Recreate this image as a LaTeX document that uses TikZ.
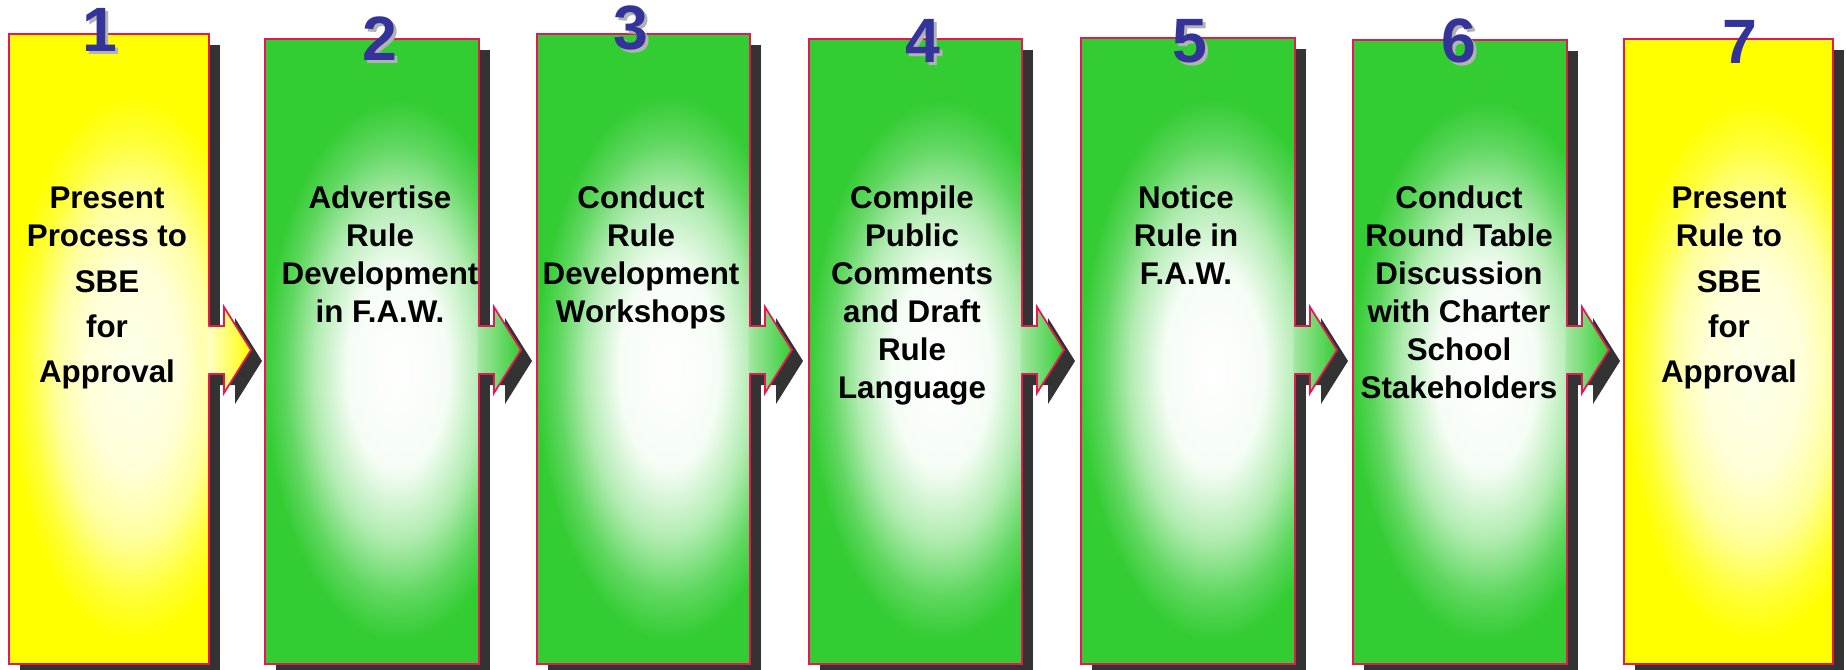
\documentclass[tikz,border=0pt]{standalone}
\usepackage{fontspec}
\setmainfont{Liberation Sans}
\usetikzlibrary{calc,fit}
\definecolor{grn}{RGB}{51,204,51}
\definecolor{yel}{RGB}{255,255,0}
\definecolor{edgec}{RGB}{228,24,84}
\definecolor{shadowc}{RGB}{51,51,51}
\definecolor{numc}{RGB}{51,51,153}
\definecolor{numsh}{RGB}{178,178,178}
% 25bp of the shading = 1.3 box widths horizontally, 0.9 box heights vertically
\pgfdeclareradialshading{grnglow}{\pgfpoint{0bp}{0bp}}{color(0bp)=(white); color(4.5bp)=(grn!5!white); color(7.5bp)=(grn!38!white); color(10bp)=(grn!78!white); color(12bp)=(grn); color(50bp)=(grn)}
\pgfdeclareradialshading{yelglow}{\pgfpoint{0bp}{0bp}}{color(0bp)=(yel!8!white); color(4.5bp)=(yel!15!white); color(7.5bp)=(yel!38!white); color(10bp)=(yel!78!white); color(12bp)=(yel); color(50bp)=(yel)}
% #1 name, #2 x0, #3 y0, #4 x1, #5 glow shading
\newcommand\stepblock[5]{%
  \node[shadowbox, fit={(#2+11,#3+11) (#4+11,675)}] (#1s) {};
  \begin{scope}
    \clip (#2,#3) rectangle (#4,664);
    \shade[shading=#5] ({#2-0.68*(#4-#2)},{#3-0.37*(664-#3)}) rectangle ({#4+0.92*(#4-#2)},{664+0.43*(664-#3)});
  \end{scope}
  \node[outline, fit={(#2,#3) (#4,664)}] (#1) {};
}
% #1 box name, #2 light colour, #3 full colour
\newcommand\steparrow[3]{%
  \begin{scope}[shift={(#1.east |- axisline)}]
    \fill[shadowc] (9.5,-13) -- (26,-13) -- (26,-32) -- (53,11) -- (26,54) -- (26,35) -- (9.5,35) -- cycle;
    \shade[left color=#2, right color=#3] (-1.5,-24) -- (15,-24) -- (15,-43) -- (42,0) -- (15,43) -- (15,24) -- (-1.5,24) -- cycle;
    \draw[edge] (-0.6,-24) -- (15,-24) -- (15,-43) -- (42,0) -- (15,43) -- (15,24) -- (-0.6,24);
  \end{scope}
}
\begin{document}
\begin{tikzpicture}[x=0.75pt,y=-0.75pt,
  edge/.style={draw=edgec,line width=1.3pt,line join=miter},
  outline/.style={edge, rectangle, inner sep=0pt, outer sep=0pt},
  shadowbox/.style={fill=shadowc, rectangle, inner sep=0pt, outer sep=0pt, draw=none},
  lbl/.style={anchor=north, align=center, inner sep=0pt, font=\bfseries\fontsize{23.5}{28.5}\selectfont},
  num/.style={anchor=base, inner sep=0pt, text=numc, font=\bfseries\fontsize{47}{50}\selectfont},
  numshade/.style={num, text=numsh}]
\useasboundingbox (0,0) rectangle (1846,670);
\coordinate (axisline) at (0,350);

\stepblock{b1}{9}{34}{209}{yelglow}
\steparrow{b1}{yel!22!white}{yel}
\stepblock{b2}{265}{39}{479}{grnglow}
\steparrow{b2}{grn!45!white}{grn}
\stepblock{b3}{537}{34}{750}{grnglow}
\steparrow{b3}{grn!45!white}{grn}
\stepblock{b4}{809}{39}{1022}{grnglow}
\steparrow{b4}{grn!45!white}{grn}
\stepblock{b5}{1081}{38}{1295}{grnglow}
\steparrow{b5}{grn!45!white}{grn}
\stepblock{b6}{1353}{40}{1567}{grnglow}
\steparrow{b6}{grn!45!white}{grn}
\stepblock{b7}{1624}{39}{1833}{yelglow}

\node[lbl] (t1) at (107,181.3) {\rule{0pt}{20pt}Present\\Process to\\[6pt]SBE\\[5.25pt]for\\[5.25pt]Approval};
\node[lbl] (t2) at (380,181.3) {\rule{0pt}{20pt}Advertise\\Rule\\Development\\in F.A.W.};
\node[lbl] (t3) at (641,181.3) {\rule{0pt}{20pt}Conduct\\Rule\\Development\\Workshops};
\node[lbl] (t4) at (912,181.3) {\rule{0pt}{20pt}Compile\\Public\\Comments\\and Draft\\Rule\\Language};
\node[lbl] (t5) at (1186,181.3) {\rule{0pt}{20pt}Notice\\Rule in\\F.A.W.};
\node[lbl] (t6) at (1459,181.3) {\rule{0pt}{20pt}Conduct\\Round Table\\Discussion\\with Charter\\School\\Stakeholders};
\node[lbl] (t7) at (1729,181.3) {\rule{0pt}{20pt}Present\\Rule to\\[6pt]SBE\\[5.25pt]for\\[5.25pt]Approval};

\node[numshade] (n1s) at (103,55) {1};
\node[num] (n1) at (100,52) {1};
\node[numshade] (n2s) at (383,64) {2};
\node[num] (n2) at (380,61) {2};
\node[numshade] (n3s) at (634,53) {3};
\node[num] (n3) at (631,50) {3};
\node[numshade] (n4s) at (926,66) {4};
\node[num] (n4) at (923,63) {4};
\node[numshade] (n5s) at (1193,66) {5};
\node[num] (n5) at (1190,63) {5};
\node[numshade] (n6s) at (1462,66) {6};
\node[num] (n6) at (1459,63) {6};
\node[num] (n7) at (1740,64) {7};
\end{tikzpicture}
\end{document}
